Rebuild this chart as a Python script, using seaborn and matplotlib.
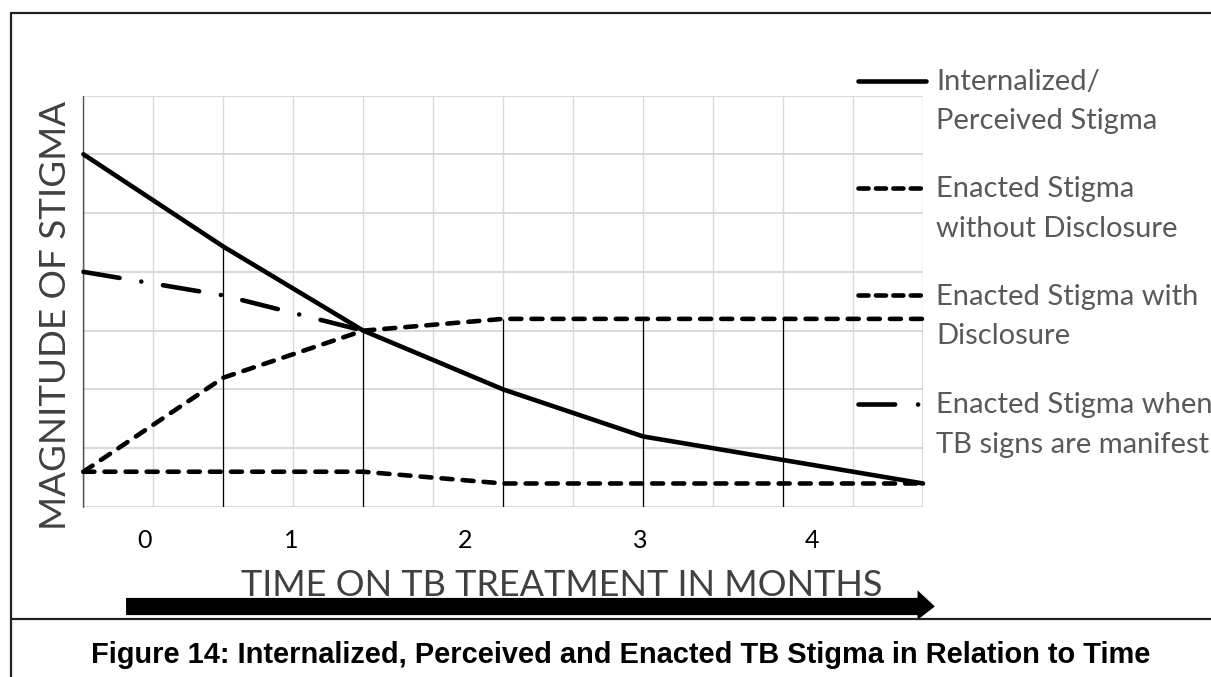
import numpy as np
import pandas as pd
import matplotlib
matplotlib.use("Agg")
import matplotlib.pyplot as plt
import seaborn as sns
from matplotlib.lines import Line2D
from matplotlib.patches import Polygon

# ---------------- data ----------------
categories = [0, 1, 2, 3, 4, 5, 6]
internalized = [6.0, 4.43, 3.0, 2.0, 1.2, 0.8, 0.4]
without_disclosure = [0.6, 0.6, 0.6, 0.4, 0.4, 0.4, 0.4]
with_disclosure = [0.6, 2.2, 3.0, 3.2, 3.2, 3.2, 3.2]
tb_manifest = [4.0, 3.6, 3.0, np.nan, np.nan, np.nan, np.nan]
tick_labels = ["0", "1", "2", "3", "4"]
series_labels = [
    "Internalized/\nPerceived Stigma",
    "Enacted Stigma\nwithout Disclosure",
    "Enacted Stigma with\nDisclosure",
    "Enacted Stigma when\nTB signs are manifest",
]
y_title = "MAGNITUDE OF STIGMA"
x_title = "TIME ON TB TREATMENT IN MONTHS"
caption = "Figure 14: Internalized, Perceived and Enacted TB Stigma in Relation to Time"

# ---------------- layout ----------------
W, H, DPI = 1211, 677, 100
sns.set_theme(style="white")
plt.rcParams["font.family"] = ["Lato", "DejaVu Sans"]

fig = plt.figure(figsize=(W / DPI, H / DPI), dpi=DPI)
fig.patch.set_facecolor("white")

def fx(px):
    return px / W

def fy(py):
    return 1 - py / H

ax = fig.add_axes([fx(83.4), fy(507), fx(923) - fx(83.4), fy(95.5) - fy(507)])
ax.set_xlim(0, 6)
ax.set_ylim(0, 7)

# grid
ax.set_yticks(np.arange(0, 8, 1))
ax.set_yticklabels([])
ax.set_xticks(np.arange(0, 6.01, 0.5), minor=True)
tick_pos = [0.44, 1.483, 2.726, 3.976, 5.204]
ax.set_xticks(tick_pos)
ax.set_xticklabels(tick_labels, fontsize=18, color="black")
ax.grid(axis="y", which="major", color="#d9d9d9", lw=1.4)
ax.grid(axis="x", which="minor", color="#d9d9d9", lw=1.0)
ax.grid(axis="x", which="major", visible=False)
ax.tick_params(axis="both", which="both", length=0)
ax.tick_params(axis="x", pad=16)
for s in ax.spines.values():
    s.set_visible(False)

# drop lines (max of series at each category)
allv = np.array([internalized, without_disclosure, with_disclosure, tb_manifest], dtype=float)
ax.vlines(categories, 0, np.nanmax(allv, axis=0), color="black", lw=0.9, zorder=2)
ax.axvline(0, color="#555555", lw=1.0, zorder=2)

LW = 3.3
dash_style = (0, (2.4, 2.2))
dashdot_style = (0, (8.0, 4.8, 0.01, 4.8))

sns.lineplot(x=categories, y=internalized, ax=ax, color="black", lw=LW,
             solid_capstyle="round", legend=False, zorder=4)
sns.lineplot(x=categories, y=without_disclosure, ax=ax, color="black", lw=LW,
             linestyle=dash_style, dash_capstyle="round", legend=False, zorder=4)
sns.lineplot(x=categories, y=with_disclosure, ax=ax, color="black", lw=LW,
             linestyle=dash_style, dash_capstyle="round", legend=False, zorder=4)
sns.lineplot(x=categories, y=tb_manifest, ax=ax, color="black", lw=LW,
             linestyle=dashdot_style, dash_capstyle="round", legend=False, zorder=4)
for ln in ax.lines:
    ln.set_clip_on(False)

# ---------------- legend (manual) ----------------
leg_y = [80.5, 188, 295, 404]
leg_styles = ["-", (0, (2.2, 1.6)), (0, (2.2, 1.6)), (0, (8.0, 5.0, 0.01, 5.0))]
for yy, st, lab in zip(leg_y, leg_styles, series_labels):
    fig.add_artist(Line2D([fx(858), fx(926)], [fy(yy), fy(yy)], color="black", lw=LW,
                          linestyle=st, dash_capstyle="round", solid_capstyle="round",
                          transform=fig.transFigure))
    lines = lab.split("\n")
    for i, t in enumerate(lines):
        fig.text(fx(936), fy(yy + 9.5 + 39.5 * i), t, fontsize=21, color="#595959",
                 ha="left", va="baseline")

# ---------------- axis titles ----------------
fig.text(fx(56), fy(315.5), y_title, rotation=90, ha="center", va="center",
         fontsize=26.5, color="#404040")
fig.text(fx(562), fy(596), x_title, ha="center", va="baseline",
         fontsize=26, color="#404040")

# ---------------- arrow ----------------
arrow_px = [(125.5, 597.3), (917, 597.3), (917, 589), (935.7, 606.5), (917, 621),
            (917, 615.7), (125.5, 615.7)]
fig.add_artist(Polygon([(fx(x), fy(y)) for x, y in arrow_px], closed=True,
                       facecolor="black", edgecolor="white", lw=0.8,
                       transform=fig.transFigure))

# ---------------- frame ----------------
frame_kw = dict(color="#222222", lw=1.6, transform=fig.transFigure)
fig.add_artist(Line2D([fx(11), 1.0], [fy(12.7), fy(12.7)], **frame_kw))
fig.add_artist(Line2D([fx(11), fx(11)], [fy(12.7), 0.0], **frame_kw))
fig.add_artist(Line2D([fx(11), 1.0], [fy(619.3), fy(619.3)], **frame_kw))

# ---------------- caption ----------------
fig.text(fx(621), fy(663), caption, ha="center", va="baseline", fontsize=20.9,
         fontweight="bold", family=["Liberation Sans", "DejaVu Sans"], color="black")

fig.savefig("out.png", dpi=DPI, facecolor="white")
